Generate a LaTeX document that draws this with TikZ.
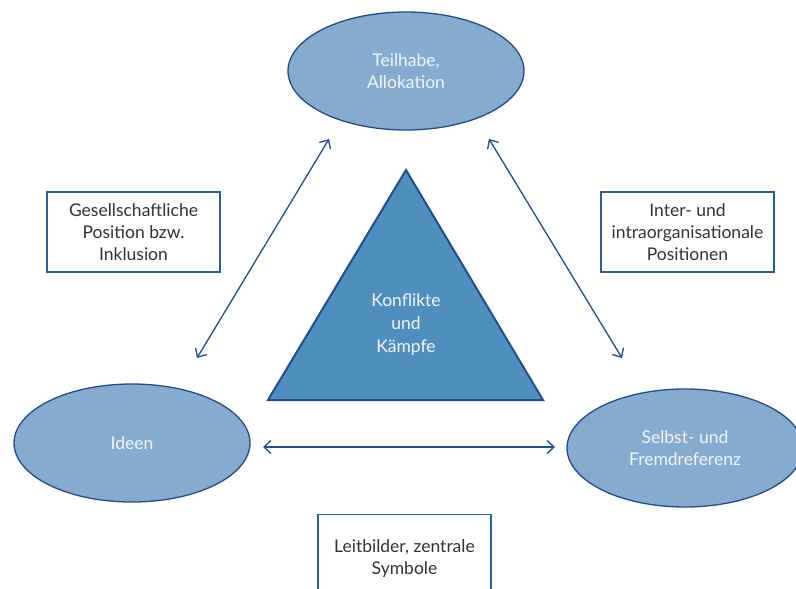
\documentclass[tikz,border=0pt]{standalone}
\usepackage{fontspec}
\setmainfont{Lato}
\usetikzlibrary{shapes.geometric,arrows.meta}
\definecolor{ellfill}{HTML}{86ABCF}
\definecolor{trifill}{HTML}{4F8FBF}
\definecolor{darkline}{HTML}{1F4E8C}
\definecolor{boxline}{HTML}{2E5E9A}
\definecolor{lighttext}{HTML}{F2F5F9}
\definecolor{darktext}{HTML}{333333}
\begin{document}
\begin{tikzpicture}[x=1pt,y=-1pt,
  ell/.style={ellipse,draw=darkline,line width=1.3pt,fill=ellfill,minimum width=236pt,minimum height=118pt,inner sep=0pt,
    text=lighttext,font=\fontsize{17.5}{22.5}\selectfont,align=center},
  infobox/.style={draw=boxline,line width=1.2pt,fill=white,text=darktext,font=\fontsize{17.5}{22}\selectfont,align=center,
    minimum width=173pt,minimum height=80pt,inner sep=0pt},
  conn/.style={draw=darkline,line width=1.3pt,{Straight Barb[length=7pt,width=13pt]}-{Straight Barb[length=7pt,width=13pt]}}]
\useasboundingbox (0,0) rectangle (796,589);
\fill[white] (0,0) rectangle (796,589);
% ellipses
\node[ell] (teil) at (406,71) {Teilhabe,\\Allokation};
\node[ell] (ideen) at (132,443) {Ideen};
\node[ell] (selbst) at (685,448) {Selbst- und\\Fremdreferenz};
% triangle
\draw[draw=darkline,line width=2pt,fill=trifill,line join=miter] (406,170) -- (543,400) -- (268,400) -- cycle;
\node[text=lighttext,font=\fontsize{17.5}{23}\selectfont,align=center] (konf) at (406,325) {Konflikte\\und\\Kämpfe};
% boxes
\node[infobox] (gesell) at (133.5,232) {Gesellschaftliche\\Position bzw.\\Inklusion};
\node[infobox] (inter) at (687.5,232) {Inter- und\\intraorganisationale\\Positionen};
\node[infobox,anchor=north,minimum height=90pt] (leit) at (404.5,514) {};
\node[text=darktext,font=\fontsize{17.5}{22}\selectfont,align=center] (leittext) at (404.5,559) {Leitbilder, zentrale\\Symbole};
% arrows
\coordinate (a1) at (197,358);
\coordinate (a2) at (329,139);
\coordinate (b1) at (489,139);
\coordinate (b2) at (622,358);
\coordinate (c1) at (263,447);
\coordinate (c2) at (555,447);
\draw[conn] (a1) -- (a2);
\draw[conn] (b1) -- (b2);
\draw[conn] (c1) -- (c2);
\end{tikzpicture}
\end{document}
